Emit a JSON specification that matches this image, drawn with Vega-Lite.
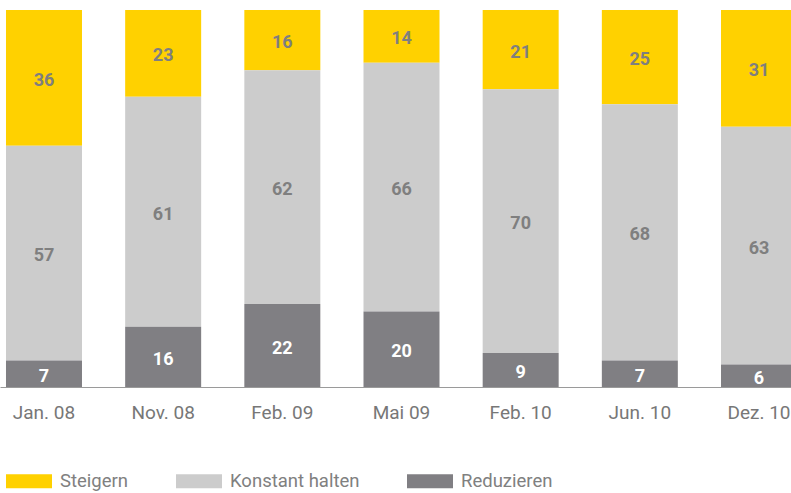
{
  "$schema": "https://vega.github.io/schema/vega-lite/v6.json",
  "autosize": "none",
  "padding": {"left": 0, "top": 10, "right": 0, "bottom": 106},
  "width": 803,
  "height": 377,
  "config": {
    "view": {"stroke": null},
    "font": "Roboto"
  },
  "data": {
    "values": [
      {"month": "Jan. 08", "cat": "Steigern", "value": 36, "ord": 3},
      {"month": "Jan. 08", "cat": "Konstant halten", "value": 57, "ord": 2},
      {"month": "Jan. 08", "cat": "Reduzieren", "value": 7, "ord": 1},
      {"month": "Nov. 08", "cat": "Steigern", "value": 23, "ord": 3},
      {"month": "Nov. 08", "cat": "Konstant halten", "value": 61, "ord": 2},
      {"month": "Nov. 08", "cat": "Reduzieren", "value": 16, "ord": 1},
      {"month": "Feb. 09", "cat": "Steigern", "value": 16, "ord": 3},
      {"month": "Feb. 09", "cat": "Konstant halten", "value": 62, "ord": 2},
      {"month": "Feb. 09", "cat": "Reduzieren", "value": 22, "ord": 1},
      {"month": "Mai 09", "cat": "Steigern", "value": 14, "ord": 3},
      {"month": "Mai 09", "cat": "Konstant halten", "value": 66, "ord": 2},
      {"month": "Mai 09", "cat": "Reduzieren", "value": 20, "ord": 1},
      {"month": "Feb. 10", "cat": "Steigern", "value": 21, "ord": 3},
      {"month": "Feb. 10", "cat": "Konstant halten", "value": 70, "ord": 2},
      {"month": "Feb. 10", "cat": "Reduzieren", "value": 9, "ord": 1},
      {"month": "Jun. 10", "cat": "Steigern", "value": 25, "ord": 3},
      {"month": "Jun. 10", "cat": "Konstant halten", "value": 68, "ord": 2},
      {"month": "Jun. 10", "cat": "Reduzieren", "value": 7, "ord": 1},
      {"month": "Dez. 10", "cat": "Steigern", "value": 31, "ord": 3},
      {"month": "Dez. 10", "cat": "Konstant halten", "value": 63, "ord": 2},
      {"month": "Dez. 10", "cat": "Reduzieren", "value": 6, "ord": 1}
    ]
  },
  "encoding": {
    "x": {
      "field": "month",
      "type": "nominal",
      "sort": null,
      "scale": {"paddingInner": 0.3623, "paddingOuter": 0.0503},
      "axis": {
        "title": null,
        "ticks": false,
        "labelAngle": 0,
        "labelFont": "Roboto",
        "labelFontSize": 19,
        "labelColor": "#777777",
        "labelPadding": 16,
        "domainColor": "#9a9a9a",
        "domainWidth": 1
      }
    },
    "y": {
      "field": "value",
      "type": "quantitative",
      "stack": "zero",
      "scale": {"domain": [0, 100], "nice": false},
      "axis": null
    },
    "order": {"field": "ord", "type": "quantitative"}
  },
  "layer": [
    {
      "mark": {"type": "bar"},
      "encoding": {
        "color": {
          "field": "cat",
          "type": "nominal",
          "scale": {
            "domain": ["Steigern", "Konstant halten", "Reduzieren"],
            "range": ["#FFD100", "#CCCCCC", "#807F83"]
          },
          "legend": {
            "title": null,
            "orient": "none",
            "direction": "horizontal",
            "legendX": 6,
            "legendY": 448,
            "symbolType": "M-1,-0.3043H1V0.3043H-1Z",
            "symbolSize": 2116,
            "symbolStrokeWidth": 0,
            "symbolOpacity": 1,
            "labelFont": "Roboto",
            "labelFontSize": 18.5,
            "labelColor": "#808080",
            "labelOffset": 8,
            "columnPadding": 47,
            "labelLimit": 300
          }
        }
      }
    },
    {
      "mark": {"type": "text", "font": "Roboto", "fontSize": 18, "fontWeight": "bold", "baseline": "middle", "dy": 3},
      "encoding": {
        "y": {"field": "value", "type": "quantitative", "stack": "zero", "bandPosition": 0.5},
        "text": {"field": "value", "type": "quantitative"},
        "color": {
          "condition": {"test": "datum.cat === 'Reduzieren'", "value": "#ffffff"},
          "value": "#7f7f7f"
        }
      }
    }
  ]
}
